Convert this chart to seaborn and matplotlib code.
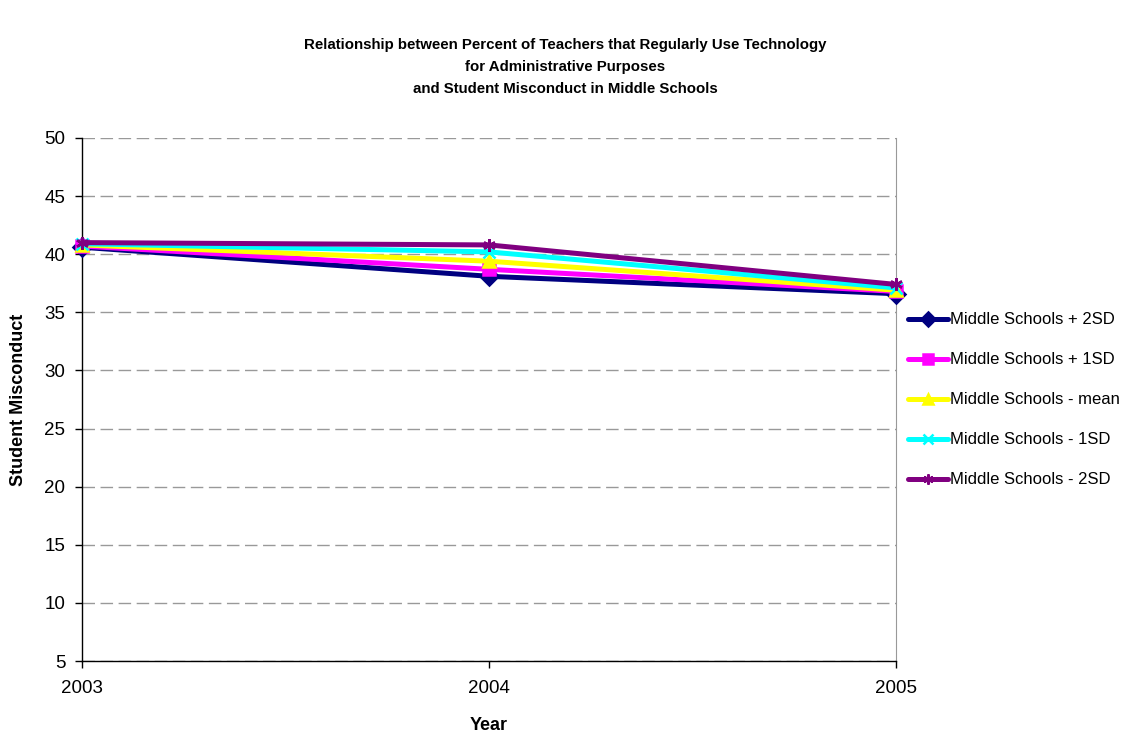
import matplotlib
matplotlib.use("Agg")
import matplotlib.pyplot as plt
import seaborn as sns
import pandas as pd

years = [2003, 2004, 2005]
series_names = [
    "Middle Schools + 2SD",
    "Middle Schools + 1SD",
    "Middle Schools - mean",
    "Middle Schools - 1SD",
    "Middle Schools - 2SD",
]
plus_2sd = [40.6, 38.1, 36.6]
plus_1sd = [40.7, 38.7, 36.8]
mean_vals = [40.8, 39.4, 36.9]
minus_1sd = [40.9, 40.2, 37.1]
minus_2sd = [41.0, 40.8, 37.4]

colors = ["#000080", "#FF00FF", "#FFFF00", "#00FFFF", "#800080"]
markers = ["D", "s", "^", "x", (6, 2, 0)]

df = pd.DataFrame({
    "Year": years * 5,
    "Student Misconduct": plus_2sd + plus_1sd + mean_vals + minus_1sd + minus_2sd,
    "series": [n for n in series_names for _ in years],
})

sns.set_style("white")
plt.rcParams["font.family"] = ["Liberation Sans", "DejaVu Sans"]
plt.rcParams["text.color"] = "black"
plt.rcParams["axes.labelcolor"] = "black"
plt.rcParams["xtick.color"] = "black"
plt.rcParams["ytick.color"] = "black"

W, H = 1131, 736
fig = plt.figure(figsize=(W / 100, H / 100), dpi=100)
ax = fig.add_axes([82 / W, 1 - 661 / H, (896 - 82) / W, (661 - 138) / H])

for name, c, m in zip(series_names, colors, markers):
    sub = df[df["series"] == name]
    sns.lineplot(data=sub, x="Year", y="Student Misconduct", ax=ax, color=c,
                 marker=m, markersize=9, markeredgecolor=c, markeredgewidth=1.8,
                 linewidth=3.6, label=name, clip_on=False, zorder=3)

ax.set_xlim(2003, 2005)
ax.set_ylim(5, 50)
ax.set_xticks(years)
ax.set_yticks(range(5, 51, 5))
ax.yaxis.grid(True, color="#999999", linestyle=(0, (9, 4)), linewidth=1)
ax.tick_params(axis="both", labelsize=13.5, length=5, width=1, direction="out",
               left=True, bottom=True)
ax.tick_params(axis="y", pad=7)
ax.tick_params(axis="x", pad=9)

for side in ["left", "bottom"]:
    ax.spines[side].set_color("black")
    ax.spines[side].set_linewidth(1)
ax.spines["top"].set_visible(False)
ax.spines["right"].set_color("#999999")

ax.set_xlabel("Year", fontsize=13, fontweight="bold", va="center")
ax.set_ylabel("Student Misconduct", fontsize=13, fontweight="bold", va="center")
ax.xaxis.set_label_coords(0.5, (661 - 725) / 523)
ax.yaxis.set_label_coords((19 - 82) / 814, 0.5)

fig.text(0.5, 1 - 67 / H,
         "Relationship between Percent of Teachers that Regularly Use Technology\n"
         "for Administrative Purposes\nand Student Misconduct in Middle Schools",
         ha="center", va="center", fontsize=10.8, fontweight="bold", linespacing=1.75)

leg = ax.legend(loc="center left", bbox_to_anchor=(908 / W, 1 - 400 / H),
                bbox_transform=fig.transFigure, frameon=False, fontsize=12,
                handlelength=2.4, handletextpad=0.15, labelspacing=1.5,
                borderaxespad=0, borderpad=0, markerscale=0.8)

fig.savefig("out.png", dpi=100)
